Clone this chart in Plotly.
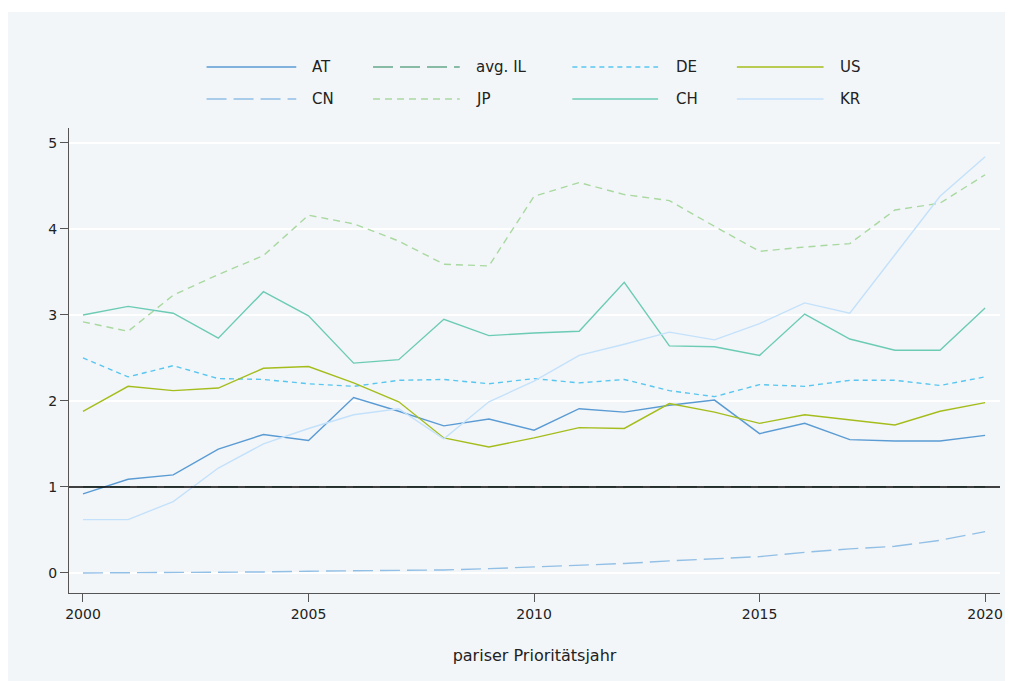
import plotly.graph_objects as go

# Daten
years = list(range(2000, 2021))

at = [0.92, 1.09, 1.14, 1.44, 1.61, 1.54, 2.04, 1.88, 1.71, 1.79, 1.66,
      1.91, 1.87, 1.95, 2.01, 1.62, 1.74, 1.55, 1.535, 1.535, 1.60]
avg_il = [1.0] * 21
de = [2.50, 2.28, 2.41, 2.26, 2.25, 2.20, 2.17, 2.24, 2.25, 2.20, 2.26,
      2.21, 2.25, 2.12, 2.05, 2.19, 2.17, 2.24, 2.24, 2.18, 2.28]
us = [1.88, 2.17, 2.12, 2.15, 2.38, 2.40, 2.21, 1.99, 1.57, 1.465, 1.57,
      1.69, 1.68, 1.97, 1.87, 1.74, 1.84, 1.78, 1.72, 1.88, 1.98]
cn = [0.0, 0.002, 0.005, 0.008, 0.012, 0.02, 0.025, 0.03, 0.035, 0.05, 0.07,
      0.085, 0.11, 0.14, 0.165, 0.19, 0.24, 0.28, 0.31, 0.38, 0.48]
jp = [2.92, 2.81, 3.23, 3.47, 3.69, 4.16, 4.06, 3.86, 3.59, 3.57, 4.38,
      4.54, 4.40, 4.33, 4.03, 3.74, 3.79, 3.83, 4.22, 4.30, 4.63]
ch = [3.00, 3.10, 3.02, 2.73, 3.27, 2.99, 2.44, 2.48, 2.95, 2.76, 2.79,
      2.81, 3.38, 2.64, 2.63, 2.53, 3.01, 2.72, 2.59, 2.59, 3.08]
kr = [0.62, 0.62, 0.83, 1.22, 1.50, 1.68, 1.84, 1.91, 1.56, 1.99, 2.23,
      2.53, 2.66, 2.80, 2.71, 2.90, 3.14, 3.02, 3.70, 4.38, 4.84]

series = [
    ("AT", at, "#5a9bd4", "solid"),
    ("avg. IL", avg_il, "#64a88a", "20px,7px"),
    ("DE", de, "#58c6f0", "5px,4px"),
    ("US", us, "#a5bd1c", "solid"),
    ("CN", cn, "#92bfe6", "20px,7px"),
    ("JP", jp, "#a9d8a0", "7px,5px"),
    ("CH", ch, "#6ccbb5", "solid"),
    ("KR", kr, "#c4e1fb", "solid"),
]

# die Seite hat 8px body-Rand, daher Figur kleiner und Koordinaten verschoben
OFF = 8
W, H = 1013 - OFF, 681 - OFF
L, R, T, B = 69 - OFF, 10, 128 - OFF, 88
PW, PH = W - L - R, H - T - B
PANEL = "#f2f6f8"
FONT = "'DejaVu Sans', sans-serif"


def px2x(px):
    # Bildschirm-Pixel -> paper-Koordinate
    return (px - OFF - L) / PW


def py2y(py):
    return (H - B - (py - OFF)) / PH


fig = go.Figure()
for name, vals, color, dash in series:
    fig.add_trace(go.Scatter(
        x=years, y=vals, name=name, mode="lines",
        line=dict(color=color, width=1.2 if name == "avg. IL" else 1.4, dash=dash),
        showlegend=False,
    ))

shapes = [
    # weißer Streifen oben
    dict(type="rect", xref="paper", yref="paper", layer="below",
         x0=px2x(0), x1=px2x(1013 + 2), y0=py2y(12), y1=py2y(0),
         fillcolor="white", line=dict(width=0)),
    # Referenzlinie bei 1
    dict(type="line", xref="paper", yref="y", x0=0, x1=1, y0=1, y1=1,
         line=dict(color="black", width=1.4), layer="above"),
]
annotations = []

# Legende manuell (4 Spalten x 2 Zeilen)
cols = [(207, 297, 311), (374, 461, 475), (574, 660, 676), (739, 826, 840)]
rows = [67, 99]
for i, (name, vals, color, dash) in enumerate(series):
    x0, x1, xt = cols[i % 4]
    yy = rows[i // 4]
    shapes.append(dict(type="line", xref="paper", yref="paper",
                       x0=px2x(x0), x1=px2x(x1), y0=py2y(yy), y1=py2y(yy),
                       line=dict(color=color, width=1.6, dash=dash)))
    annotations.append(dict(xref="paper", yref="paper", x=px2x(xt), y=py2y(yy),
                            text=name, showarrow=False, xanchor="left",
                            yanchor="middle", font=dict(size=15, color="#222")))

fig.update_layout(
    width=W, height=H,
    margin=dict(l=L, r=R, t=T, b=B),
    paper_bgcolor=PANEL,
    plot_bgcolor=PANEL,
    font=dict(family=FONT, size=14, color="#222"),
    shapes=shapes,
    annotations=annotations,
    showlegend=False,
)

fig.update_xaxes(
    range=[1999.69, 2020.33],
    tickvals=[2000, 2005, 2010, 2015, 2020],
    ticks="outside", ticklen=8, tickwidth=1.3, tickcolor="#555",
    showline=True, linecolor="#555", linewidth=1.3,
    showgrid=False, zeroline=False,
    title=dict(text="pariser Prioritätsjahr", standoff=28,
               font=dict(size=16)),
)
fig.update_yaxes(
    range=[-0.233, 5.174],
    tickvals=[0, 1, 2, 3, 4, 5],
    ticks="outside", ticklen=8, tickwidth=1.3, tickcolor="#555",
    showline=True, linecolor="#555", linewidth=1.3,
    showgrid=True, gridcolor="white", gridwidth=1.6,
    zeroline=False,
)

fig.write_html("out.html")
